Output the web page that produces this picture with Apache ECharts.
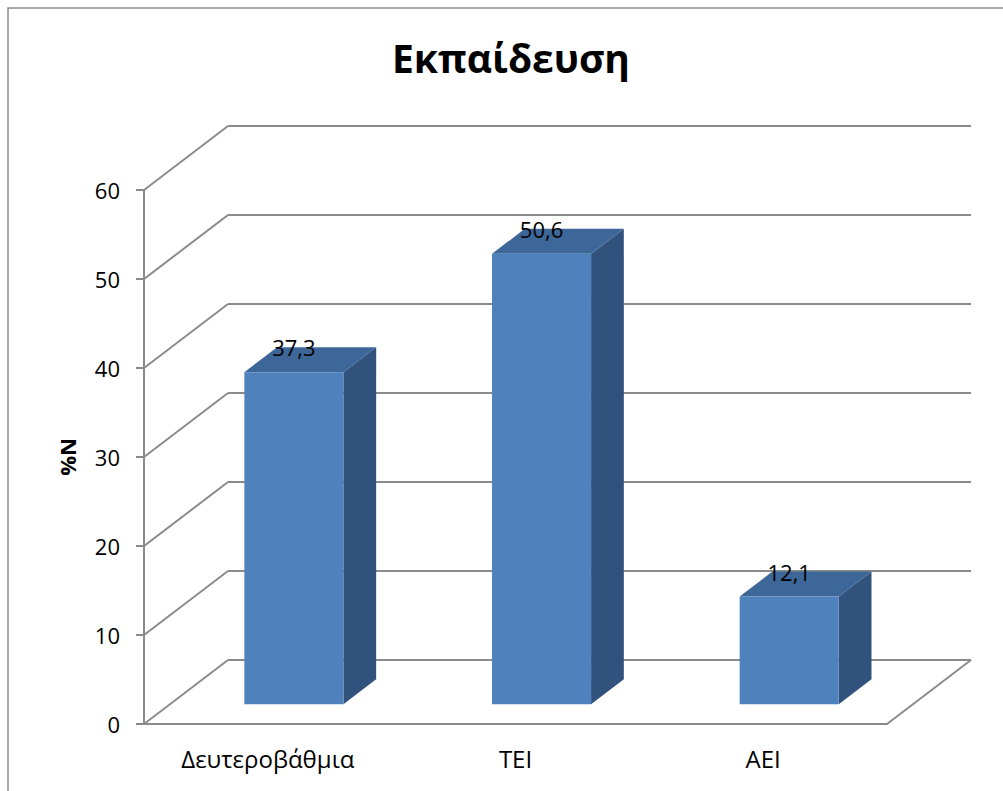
<!DOCTYPE html>
<html>
<head>
<meta charset="utf-8">
<script src="https://cdn.jsdelivr.net/npm/echarts@6/dist/echarts.min.js"></script>
<style>
  html, body { margin: 0; padding: 0; background: #ffffff; }
  #chart { width: 1003px; height: 791px; }
</style>
</head>
<body>
<div id="chart"></div>
<script>
// Chart content
const chartTitle = 'Εκπαίδευση';
const categories = ['Δευτεροβάθμια', 'TEI', 'AEI'];
const values = [37.3, 50.6, 12.1];
const yTicks = [0, 10, 20, 30, 40, 50, 60];
const yAxisName = '%N';

// Oblique projection of the box depth (pixels to the back wall)
const DEPTH = [84, -64];
// Bars sit between these depth fractions
const BAR_FRONT = 0.31;
const BAR_BACK = 0.70;
const BAR_WIDTH = 0.4;           // share of a category band
const LINE = '#8a8a8a';
const FONT = '"Open Sans", "Noto Sans", sans-serif';
const COLORS = { front: '#4F81BD', top: '#3D6799', side: '#31527C' };

const fmt = v => String(v).replace('.', ',');

const chart = echarts.init(document.getElementById('chart'), null, { renderer: 'svg' });

// Back wall grid lines, side wall diagonals and the floor edge
function renderWalls(params, api) {
  const cs = params.coordSys;
  const v = api.value(1);
  const y = api.coord([0, v])[1];
  const left = cs.x, right = cs.x + cs.width;
  const children = [
    { type: 'line', shape: { x1: left, y1: y, x2: left + DEPTH[0], y2: y + DEPTH[1] },
      style: { stroke: LINE, lineWidth: 2 } },
    { type: 'line', shape: { x1: left + DEPTH[0], y1: y + DEPTH[1], x2: right + DEPTH[0], y2: y + DEPTH[1] },
      style: { stroke: LINE, lineWidth: 2 } }
  ];
  if (v === 0) {
    children.push({ type: 'line', shape: { x1: right, y1: y, x2: right + DEPTH[0], y2: y + DEPTH[1] },
      style: { stroke: LINE, lineWidth: 2 } });
  }
  return { type: 'group', children };
}

// 3D box for each bar: front face, top and right side, plus the value label
function renderBar(params, api) {
  const i = api.value(0), v = api.value(1);
  const top = api.coord([i, v]);
  const base = api.coord([i, 0]);
  const w = api.size([1, 0])[0] * BAR_WIDTH;
  const fx = DEPTH[0] * BAR_FRONT, fy = DEPTH[1] * BAR_FRONT;
  const bx = DEPTH[0] * BAR_BACK, by = DEPTH[1] * BAR_BACK;
  const xl = top[0] - w / 2, xr = top[0] + w / 2;
  const yt = top[1], yb = base[1];
  return {
    type: 'group',
    children: [
      { type: 'polygon', shape: { points: [[xr + fx, yt + fy], [xr + bx, yt + by], [xr + bx, yb + by], [xr + fx, yb + fy]] },
        style: { fill: COLORS.side } },
      { type: 'polygon', shape: { points: [[xl + fx, yt + fy], [xr + fx, yt + fy], [xr + bx, yt + by], [xl + bx, yt + by]] },
        style: { fill: COLORS.top } },
      { type: 'rect', shape: { x: xl + fx, y: yt + fy, width: w, height: yb - yt },
        style: { fill: COLORS.front } },
      { type: 'text', x: top[0] + fx, y: yt + by,
        style: { text: fmt(v), fill: '#000', font: '22px ' + FONT, align: 'center', verticalAlign: 'middle' } }
    ]
  };
}

chart.setOption({
  animation: false,
  backgroundColor: '#ffffff',
  graphic: [
    { type: 'rect', shape: { x: 8, y: 8, width: 1200, height: 1200 },
      style: { fill: 'none', stroke: '#8c8c8c', lineWidth: 1.5 }, z: -10 },
    { type: 'text', x: 511, y: 57,
      style: { text: chartTitle, fill: '#000', font: 'bold 39px ' + FONT, align: 'center', verticalAlign: 'middle' } }
  ],
  grid: { left: 144, top: 190, width: 743, height: 534, containLabel: false },
  xAxis: {
    type: 'category',
    data: categories,
    boundaryGap: true,
    axisLine: { show: true, lineStyle: { color: LINE, width: 2 } },
    axisTick: { show: false },
    axisLabel: { color: '#000', fontSize: 24, fontFamily: FONT, margin: 22 },
    splitLine: { show: false }
  },
  yAxis: {
    type: 'value',
    min: yTicks[0],
    max: yTicks[yTicks.length - 1],
    interval: yTicks[1] - yTicks[0],
    name: yAxisName,
    nameLocation: 'middle',
    nameRotate: 90,
    nameGap: 66,
    nameTextStyle: { color: '#000', fontSize: 22, fontWeight: 'bold', fontFamily: FONT },
    axisLine: { show: true, lineStyle: { color: LINE, width: 2 } },
    axisTick: { show: true, length: 8, lineStyle: { color: LINE, width: 2 } },
    axisLabel: { color: '#000', fontSize: 22, fontFamily: FONT, margin: 24 },
    splitLine: { show: false }
  },
  series: [
    { type: 'custom', name: 'walls', renderItem: renderWalls, z: 1,
      data: yTicks.map(t => [0, t]), silent: true },
    { type: 'custom', name: 'bars', renderItem: renderBar, z: 3,
      data: values.map((v, i) => [i, v]) }
  ]
});
</script>
</body>
</html>
